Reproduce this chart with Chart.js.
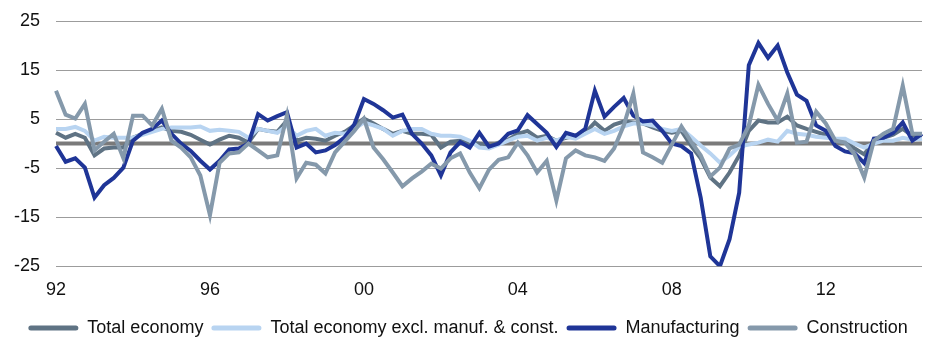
<html lang="en">
<head>
    <meta charset="UTF-8">
    <title>Employment growth by sector</title>
    <script src="https://cdn.jsdelivr.net/npm/chart.js"></script>
    <style>
        body {
            margin: 0;
            background-color: #ffffff;
        }
        #growthChart {
            display: block;
        }
    </style>
</head>
<body>
    <canvas id="growthChart" width="933" height="342"></canvas>
    <script>
        // quarterly series, 1992 Q1 to 2014 Q3
        const firstYear = 1992;
        const quarterCount = 91;
        const yearTicks = ["92", "96", "00", "04", "08", "12"];

        const totalEconomy = [
            2.2, 1.2, 2, 1.2, -2.4, -1, -0.8, -0.8, 1.2, 2,
            2.6, 3.3, 2.6, 2.4, 1.8, 0.8, -0.2, 0.8, 1.6, 1.2,
            0.2, 3, 2.6, 2.4, 4.7, 0.6, 1.2, 1, 0.6, 1.6,
            2.4, 3.7, 5.1, 4.1, 3, 2, 2.6, 2, 2, 1.8,
            -0.8, 0.4, 0.6, 0.2, 0, -0.6, 0.2, 0.8, 2, 2.6,
            1.2, 1.6, 0.6, 1.2, 1.6, 2.2, 4.3, 2.6, 3.9, 4.5,
            4.3, 4.1, 3.3, 2.6, 2.2, 2.6, -0.4, -3, -6.9, -8.7,
            -5.9, -2.4, 2.6, 4.7, 4.3, 4.3, 5.5, 3.7, 3, 2.4,
            1.8, 0.6, 0.2, -1, -2.2, 0.6, 1.2, 1.8, 3, 1.6,
            1.6
        ];
        const totalExclManufConst = [
            3, 3, 3.4, 2.6, 0.6, 1.4, 1.2, 1.2, 1.2, 1.8,
            2.4, 3, 3.3, 3.3, 3.3, 3.5, 2.6, 2.8, 2.6, 2.4,
            1.2, 3, 2.6, 2.2, 3.7, 1.6, 2.6, 3, 1.6, 2.2,
            2, 3, 4.3, 3.7, 3, 1.6, 2.6, 3, 3, 2,
            1.6, 1.6, 1.4, 0.6, -0.8, -1, -0.2, 0.6, 1.4, 1.6,
            0.6, 1.2, 0.6, 1.4, 1, 2, 3, 2, 2.6, 3.5,
            4.1, 4.1, 3.7, 3, 2.6, 3, 1.4, -0.4, -2, -3.9,
            -2.4, -0.6, -0.2, 0.2, 0.8, 0.4, 2.6, 2, 1.8, 1.4,
            1.2, 1, 1, 0, -0.8, 0, 0.6, 0.6, 1.2, 0.8,
            1
        ];
        const manufacturing = [
            -0.5, -3.7, -3, -4.9, -11, -8.5, -7, -4.9, 0.6, 2.2,
            3, 4.7, 2, 0, -1.5, -3.5, -5.3, -3.5, -1.2, -1,
            0, 6, 4.7, 5.6, 6.4, -0.8, 0, -1.8, -1.4, -0.3,
            1.3, 3.9, 9.1, 8.1, 6.8, 5.3, 5.9, 2, 0, -2.4,
            -6.5, -1.8, 0.3, -0.8, 2.2, -0.6, 0, 2, 2.7, 5.8,
            4, 2.2, -0.7, 2.2, 1.6, 3, 10.8, 5.5, 7.5, 9.3,
            5.7, 4.5, 4.7, 2.6, 0, -0.5, -2, -11, -23, -25,
            -19.5, -10, 16, 20.5, 17.5, 20, 14.5, 10, 8.7, 3.7,
            2.6, -0.5, -1.6, -2, -4, 1, 1.2, 2.2, 4.3, 0.6,
            2
        ];
        const construction = [
            10.8, 5.9, 5.1, 8.1, -1.4, 0.4, 2, -3, 5.7, 5.7,
            3.7, 7.1, 0.6, -0.8, -2.8, -6.5, -14.6, -3.9, -2, -1.8,
            0, -1.4, -2.8, -2.4, 5.7, -7.1, -3.9, -4.3, -6.1, -1.8,
            0.4, 2.6, 5.1, -0.8, -3.2, -5.9, -8.7, -7.1, -5.7, -4.1,
            -5.1, -3, -2, -5.9, -9.1, -5.3, -3.3, -2.8, 0.2, -2.4,
            -5.9, -3.5, -11.6, -3, -1.4, -2.4, -2.8, -3.5, -1, 3.7,
            10.2, -1.8, -2.8, -3.9, -0.2, 3.5, 0.4, -2.4, -6.7, -4.9,
            -1, -0.2, 3.7, 12, 8.1, 4.7, 10.2, 0.2, 0.4, 6.5,
            4.1, 0.6, 0.2, -2.2, -6.9, 0.6, 2, 3, 11.8, 2,
            2
        ];

        const quarters = [];
        for (let i = 0; i < quarterCount; i++) {
            const year = firstYear + Math.floor(i / 4);
            quarters.push(String(year).slice(2) + " Q" + (i % 4 + 1));
        }

        // thick grey line at zero, drawn under the series
        const zeroLine = {
            id: "zeroLine",
            beforeDatasetsDraw(chart) {
                const ctx = chart.ctx;
                const area = chart.chartArea;
                const y = chart.scales.y.getPixelForValue(0);
                ctx.save();
                ctx.strokeStyle = "#7a7a7a";
                ctx.lineWidth = 4;
                ctx.beginPath();
                ctx.moveTo(area.left, y);
                ctx.lineTo(area.right, y);
                ctx.stroke();
                ctx.restore();
            }
        };

        function series(label, data, color, order) {
            return {
                label: label,
                data: data,
                borderColor: color,
                backgroundColor: color,
                borderWidth: 4,
                pointRadius: 0,
                tension: 0,
                fill: false,
                order: order
            };
        }

        Chart.defaults.font.family = "'Liberation Sans', Arial, sans-serif";
        Chart.defaults.font.size = 18;
        Chart.defaults.color = "#111111";

        new Chart(document.getElementById("growthChart"), {
            type: "line",
            data: {
                labels: quarters,
                datasets: [
                    series("Total economy", totalEconomy, "#5f7384", 4),
                    series("Total economy excl. manuf. & const.", totalExclManufConst, "#b8d4f1", 3),
                    series("Manufacturing", manufacturing, "#1f3597", 2),
                    series("Construction", construction, "#8599ab", 1)
                ]
            },
            options: {
                responsive: false,
                animation: false,
                layout: {
                    padding: { left: 14, right: 11, top: 21, bottom: -5 }
                },
                plugins: {
                    tooltip: { enabled: false },
                    legend: {
                        position: "bottom",
                        // empty title only adds a gap above the legend row
                        title: {
                            display: true,
                            text: "",
                            font: { size: 1 },
                            padding: { top: 9, bottom: 0 }
                        },
                        labels: {
                            boxWidth: 50,
                            boxHeight: 5,
                            padding: 8,
                            useBorderRadius: true,
                            borderRadius: 2.5,
                            sort: (a, b) => a.datasetIndex - b.datasetIndex,
                            generateLabels(chart) {
                                const items = Chart.defaults.plugins.legend.labels.generateLabels(chart);
                                items.forEach(item => {
                                    item.lineWidth = 0;
                                    item.fillStyle = item.strokeStyle;
                                });
                                return items;
                            }
                        }
                    }
                },
                scales: {
                    x: {
                        border: { display: false },
                        // invisible tick marks keep the year labels clear of the plot
                        grid: {
                            drawOnChartArea: false,
                            drawTicks: true,
                            tickLength: 13,
                            tickColor: "rgba(0,0,0,0)"
                        },
                        ticks: {
                            autoSkip: false,
                            maxRotation: 0,
                            padding: 0,
                            callback: (value, index) => index % 16 === 0 ? yearTicks[index / 16] : ""
                        }
                    },
                    y: {
                        min: -25,
                        max: 25,
                        border: { display: false },
                        grid: {
                            color: "#9c9c9c",
                            lineWidth: 1,
                            drawTicks: true,
                            tickLength: 16,
                            tickColor: "rgba(0,0,0,0)"
                        },
                        ticks: {
                            stepSize: 10,
                            padding: 0
                        }
                    }
                }
            },
            plugins: [zeroLine]
        });
    </script>
</body>
</html>
